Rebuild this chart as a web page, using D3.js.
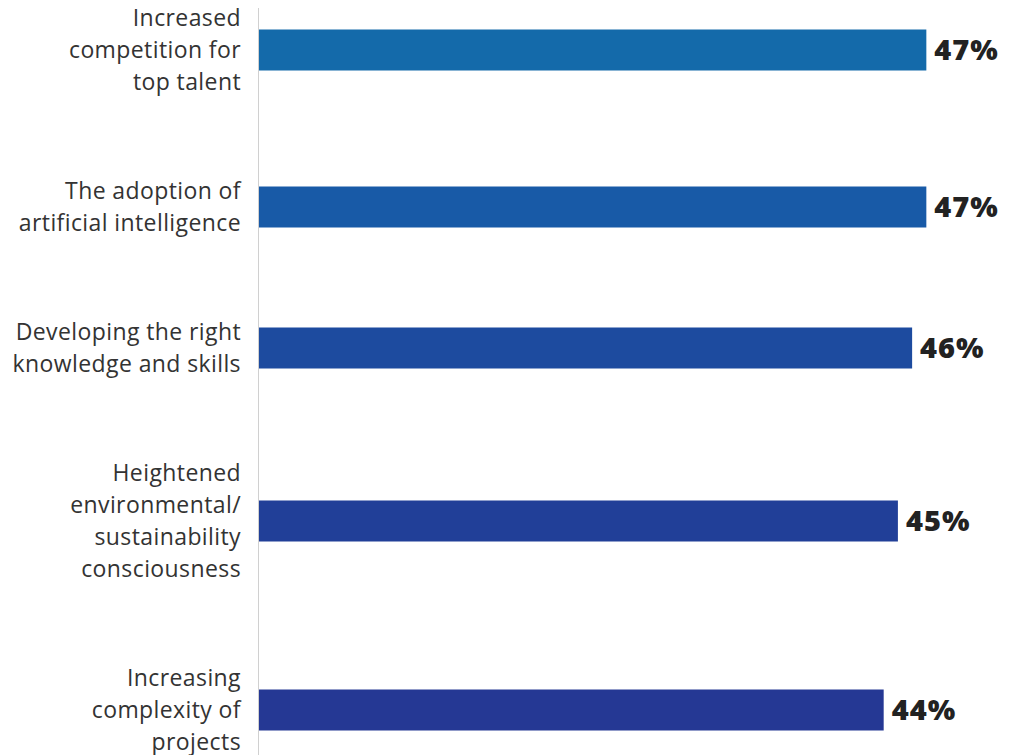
<!DOCTYPE html>
<html>
<head>
<meta charset="utf-8">
<script src="https://cdn.jsdelivr.net/npm/d3@7"></script>
<style>
  html, body { margin: 0; padding: 0; background: #ffffff; }
  svg { display: block; }
</style>
</head>
<body>
<svg id="chart" width="1010" height="755"></svg>
<script>
// Category labels, split into their display lines
const categories = [
  ["Increased", "competition for", "top talent"],
  ["The adoption of", "artificial intelligence"],
  ["Developing the right", "knowledge and skills"],
  ["Heightened", "environmental/", "sustainability", "consciousness"],
  ["Increasing", "complexity of", "projects"]
];
// Share of respondents (%)
const values = [47, 47, 46, 45, 44];
const barColors = ["#146aaa", "#185aa7", "#1d4b9f", "#213f98", "#253894"];

const width = 1010, height = 755;
const axisX = 258;
const lineH = 32;      // label line height
const blockGap = 77;   // space between label blocks
const barH = 41;
const startY = 2;

const svg = d3.select("#chart");

const x = d3.scaleLinear().domain([0, 50]).range([axisX, axisX + 711]);

// Vertical centre of each category, stacked by label height
const centers = [];
let cursor = startY;
categories.forEach(lines => {
  const h = lines.length * lineH;
  centers.push(cursor + h / 2);
  cursor += h + blockGap;
});

// Baseline axis line
svg.append("line")
  .attr("x1", axisX + 0.5).attr("x2", axisX + 0.5)
  .attr("y1", 8).attr("y2", height)
  .attr("stroke", "#d0d0d0").attr("stroke-width", 1);

const rows = svg.selectAll("g.row")
  .data(values.map((v, i) => ({ v, i, lines: categories[i], c: centers[i] })))
  .join("g").attr("class", "row");

rows.append("rect")
  .attr("x", x(0) + 1)
  .attr("y", d => d.c - barH / 2)
  .attr("width", d => x(d.v) - x(0) - 1)
  .attr("height", barH)
  .attr("fill", d => barColors[d.i]);

rows.append("text")
  .attr("x", d => x(d.v) + 8)
  .attr("y", d => d.c)
  .attr("dy", "0.36em")
  .attr("font-family", "'Open Sans', sans-serif")
  .attr("font-weight", 800)
  .attr("font-size", 29)
  .attr("letter-spacing", 1)
  .attr("fill", "#222222")
  .text(d => d.v + "%");

rows.each(function(d) {
  const t = d3.select(this).append("text")
    .attr("text-anchor", "end")
    .attr("font-family", "'Open Sans', sans-serif")
    .attr("font-size", 23)
    .attr("letter-spacing", 0.4)
    .attr("fill", "#333333");
  const n = d.lines.length;
  d.lines.forEach((ln, k) => {
    t.append("tspan")
      .attr("x", 241)
      .attr("y", d.c + (k - (n - 1) / 2) * lineH)
      .attr("dy", "0.35em")
      .text(ln);
  });
});
</script>
</body>
</html>
